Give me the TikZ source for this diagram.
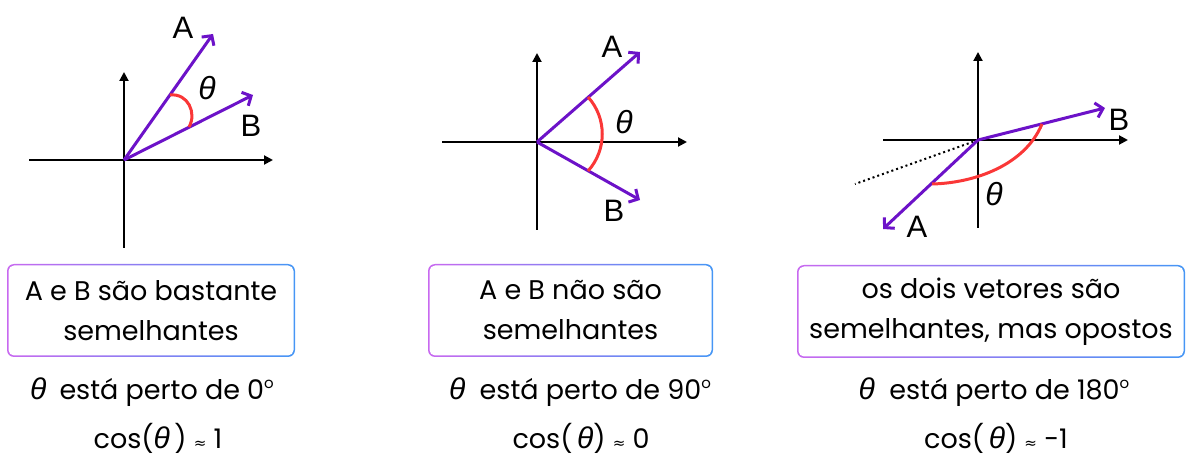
\documentclass[tikz,border=0pt]{standalone}
\usepackage{fontspec}
\setmainfont{Poppins}
\newfontfamily\libfont{Liberation Sans}
\newfontfamily\dvfont{DejaVu Sans}
\usetikzlibrary{arrows.meta}
\definecolor{veccol}{RGB}{108,18,200}
\definecolor{arccol}{RGB}{250,55,55}
\definecolor{boxpu}{RGB}{200,105,240}
\definecolor{boxbl}{RGB}{70,150,245}
\newcommand{\mytheta}[1]{{\libfont\itshape\fontsize{#1}{#1}\selectfont θ}}
\newcommand{\mydeg}{\raisebox{0.42em}{\fontsize{15}{15}\selectfont o}}
\newcommand{\myapprox}{{\dvfont\fontsize{15}{15}\selectfont ≈}}
\begin{document}
\begin{tikzpicture}[x=1pt,y=-1pt,
  axis/.style={line width=2pt,-{Triangle[length=9pt,width=9pt]}},
  vector/.style={veccol,line width=3pt,-{Straight Barb[length=7pt,width=15pt]}},
  angarc/.style={arccol,line width=3pt},
  vlabel/.style={font=\libfont\fontsize{31}{31}\selectfont,inner sep=0pt},
  thlabel/.style={inner sep=0pt},
  boxtxt/.style={align=center,font=\fontsize{27}{40}\selectfont,fill=white,rounded corners=5.5pt,inner sep=0pt},
  lowtxt/.style={font=\fontsize{27}{30}\selectfont,inner sep=0pt},
  boxshade/.style={left color=boxpu,right color=boxbl,rounded corners=7pt}]
\useasboundingbox (0,0) rectangle (1192,462);
% ---------- panel 1 ----------
\coordinate (O1) at (124,160);
\coordinate (X1l) at (29,160); \coordinate (X1r) at (273,160);
\coordinate (Y1b) at (124,248); \coordinate (Y1t) at (124,72);
\coordinate (A1) at (213,34); \coordinate (B1) at (253,95);
\draw[axis] (X1l) -- (X1r);
\draw[axis] (Y1b) -- (Y1t);
\draw[vector] (O1) -- (A1);
\draw[vector] (O1) -- (B1);
\coordinate (P1a) at (170,95); \coordinate (P1b) at (189,127);
\draw[angarc] (P1a) .. controls (188,93) and (197,113) .. (P1b);
\node[vlabel] (LA1) at (183,28) {A};
\node[vlabel] (LB1) at (251,126) {B};
\node[thlabel] (T1) at (207,88) {\mytheta{32}};
% ---------- panel 2 ----------
\coordinate (O2) at (537,142);
\coordinate (X2l) at (442,142); \coordinate (X2r) at (687,142);
\coordinate (Y2b) at (537,230); \coordinate (Y2t) at (537,53);
\coordinate (A2) at (640,52); \coordinate (B2) at (640,200);
\draw[axis] (X2l) -- (X2r);
\draw[axis] (Y2b) -- (Y2t);
\draw[vector] (O2) -- (A2);
\draw[vector] (O2) -- (B2);
\coordinate (P2a) at (588,97); \coordinate (P2b) at (588,171);
\draw[angarc] (P2a) .. controls (607,118) and (607,150) .. (P2b);
\node[vlabel] (LA2) at (612,47) {A};
\node[vlabel] (LB2) at (614,211) {B};
\node[thlabel] (T2) at (624,122) {\mytheta{32}};
% ---------- panel 3 ----------
\coordinate (O3) at (978,140);
\coordinate (X3l) at (883,140); \coordinate (X3r) at (1128,140);
\coordinate (Y3b) at (978,228); \coordinate (Y3t) at (978,52);
\coordinate (A3) at (883,229); \coordinate (B3) at (1105,108);
\coordinate (D3) at (855,184);
\draw[axis] (X3l) -- (X3r);
\draw[axis] (Y3b) -- (Y3t);
\draw[line width=2pt,dash pattern=on 2pt off 3pt] (O3) -- (D3);
\draw[vector] (O3) -- (A3);
\draw[vector] (O3) -- (B3);
\coordinate (P3b) at (1042,124); \coordinate (P3a) at (932,184);
\draw[angarc] (P3b) .. controls (1025,165) and (975,183) .. (P3a);
\node[vlabel] (LA3) at (917,227) {A};
\node[vlabel] (LB3) at (1119,120) {B};
\node[thlabel] (T3) at (994,194) {\mytheta{32}};
% ---------- boxes ----------
\shade[boxshade] (7,264) rectangle (295,357);
\node[boxtxt,minimum width=285pt,minimum height=90pt] (box1) at (151,310.5) {A e B são bastante\\semelhantes};
\shade[boxshade] (428,264) rectangle (713,357);
\node[boxtxt,minimum width=282pt,minimum height=90pt] (box2) at (570.5,310.5) {A e B não são\\semelhantes};
\shade[boxshade] (797,265) rectangle (1185,358);
\node[boxtxt,minimum width=385pt,minimum height=90pt] (box3) at (991,311.5) {os dois vetores são\\semelhantes, mas opostos};
% ---------- lower texts ----------
\node[lowtxt] (s1) at (152,392) {\mytheta{30}\hspace{13pt}está perto de 0\mydeg};
\node[lowtxt] (c1) at (158,438) {cos(\mytheta{30}\,) \myapprox\ 1};
\node[lowtxt] (s2) at (580,392) {\mytheta{30}\ \ está perto de 90\mydeg};
\node[lowtxt] (c2) at (581,438) {cos(\,\mytheta{30}) \myapprox\ 0};
\node[lowtxt] (s3) at (994,392) {\mytheta{30}\ \ está perto de 180\mydeg};
\node[lowtxt] (c3) at (996,438) {cos(\,\mytheta{30}) \myapprox\ -1};
\end{tikzpicture}
\end{document}
